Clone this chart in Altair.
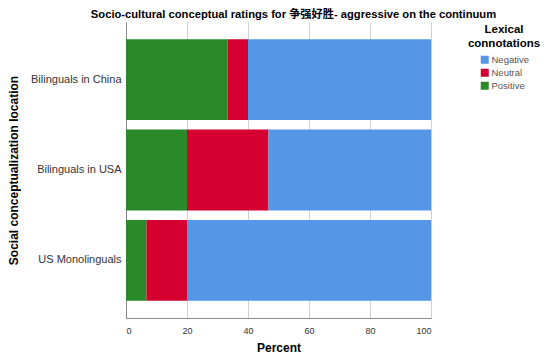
import altair as alt
import pandas as pd

groups = ["Bilinguals in China", "Bilinguals in USA", "US Monolinguals"]
categories = ["Negative", "Neutral", "Positive"]
positive = [33.3, 20.0, 6.7]
neutral = [6.7, 26.7, 13.3]
negative = [60.0, 53.3, 80.0]
colors = ["#5596E6", "#D5002F", "#2A8A2A"]
stack_order = {"Positive": 0, "Neutral": 1, "Negative": 2}

rows = []
for i, g in enumerate(groups):
    for cat, vals in (("Positive", positive), ("Neutral", neutral), ("Negative", negative)):
        rows.append({"group": g, "cat": cat, "value": vals[i], "ord": stack_order[cat]})
df = pd.DataFrame(rows)

FONT = "Liberation Sans"

chart = alt.Chart(df).mark_bar(opacity=1).encode(
    y=alt.Y("group:N", sort=groups,
            scale=alt.Scale(paddingInner=0.105, paddingOuter=0.19),
            axis=alt.Axis(title="Social conceptualization location", ticks=False,
                          labelFontSize=11, labelColor="#333333", labelPadding=5,
                          titleFontSize=12, titleFontWeight="bold", titleColor="#000000",
                          titlePadding=10, domainColor="#888888", grid=False)),
    x=alt.X("value:Q", stack="zero",
            scale=alt.Scale(domain=[0, 100], nice=False),
            axis=alt.Axis(title="Percent", values=[0, 20, 40, 60, 80, 100], ticks=False,
                          labelFontSize=9, labelColor="#333333", labelPadding=8,
                          titleFontSize=12, titleFontWeight="bold", titleColor="#000000",
                          titlePadding=7, domainColor="#888888",
                          grid=True, gridColor="#D0D0D0")),
    color=alt.Color("cat:N", sort=categories,
                    scale=alt.Scale(domain=categories, range=colors),
                    legend=alt.Legend(title=["Lexical", "connotations"], orient="none",
                                      legendX=342, legendY=2,
                                      titleFontSize=11.5, titleFontWeight="bold",
                                      titleColor="#000000", titleAlign="center",
                                      titleAnchor="middle", titlePadding=6,
                                      labelFontSize=9.5, labelColor="#555555",
                                      labelOffset=2,
                                      symbolType="square", symbolSize=64,
                                      symbolStrokeWidth=0, rowPadding=2)),
    order=alt.Order("ord:Q"),
).properties(
    width=305, height=296,
    autosize=alt.AutoSizeParams(type="none"),
    padding={"left": 118, "top": 14, "right": 111, "bottom": 36},
    title=alt.TitleParams("Socio-cultural conceptual ratings for 争强好胜- aggressive on the continuum",
                          fontSize=11.2, fontWeight="bold", color="#000000",
                          anchor="middle", dx=15, offset=2,
                          font="Liberation Sans, Noto Sans CJK SC"),
).configure(font=FONT).configure_view(stroke=None)

chart.save("out.html", embed_options={"renderer": "svg", "actions": False})
